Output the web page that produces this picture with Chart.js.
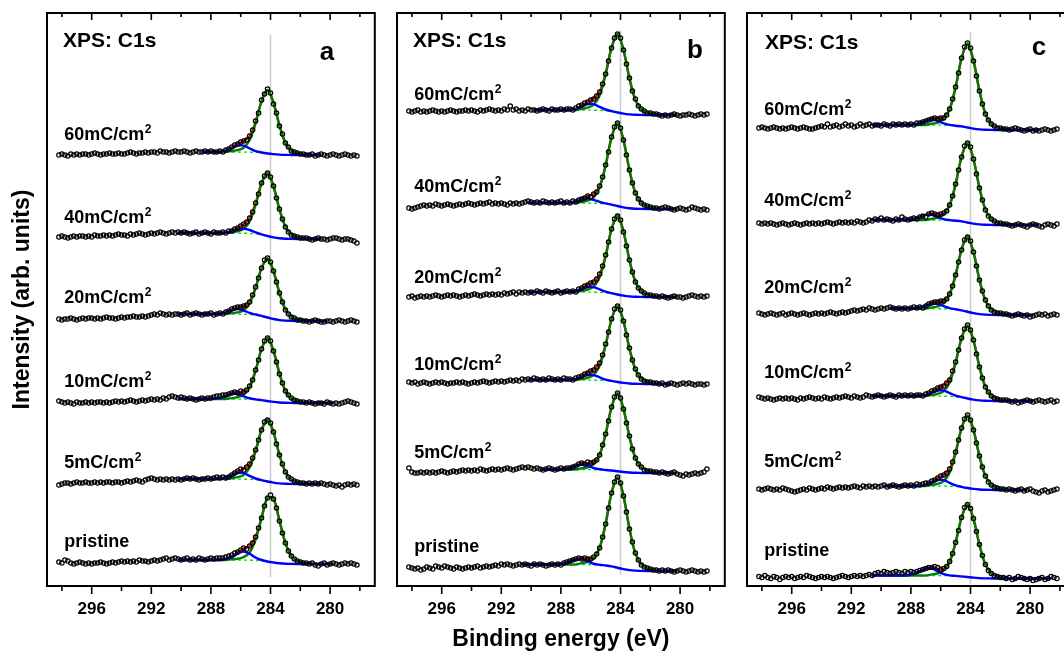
<!DOCTYPE html>
<html>
<head>
<meta charset="utf-8">
<script src="https://cdn.jsdelivr.net/npm/chart.js@4.4.1/dist/chart.umd.min.js"></script>
<style>
  html, body { margin: 0; padding: 0; background: #fff; overflow: hidden; }
  #wrap { position: relative; width: 1064px; height: 653px; overflow: hidden; }
  canvas { position: absolute; top: 0; }
</style>
</head>
<body>
<div id="wrap">
  <canvas id="panelA" width="380" height="653" style="left:0px"></canvas>
  <canvas id="panelB" width="350" height="653" style="left:380px"></canvas>
  <canvas id="panelC" width="350" height="653" style="left:730px"></canvas>
</div>
<script>
// binding energy of every measured point (eV)
const energy = [298.2,298,297.8,297.6,297.4,297.2,297,296.8,296.6,296.4,
  296.2,296,295.8,295.6,295.4,295.2,295,294.8,294.6,294.4,
  294.2,294,293.8,293.6,293.4,293.2,293,292.8,292.6,292.4,
  292.2,292,291.8,291.6,291.4,291.2,291,290.8,290.6,290.4,
  290.2,290,289.8,289.6,289.4,289.2,289,288.8,288.6,288.4,
  288.2,288,287.8,287.6,287.4,287.2,287,286.8,286.6,286.4,
  286.2,286,285.8,285.6,285.4,285.2,285,284.8,284.6,284.4,
  284.2,284,283.8,283.6,283.4,283.2,283,282.8,282.6,282.4,
  282.2,282,281.8,281.6,281.4,281.2,281,280.8,280.6,280.4,
  280.2,280,279.8,279.6,279.4,279.2,279,278.8,278.6,278.4,
  278.2];

// energies of the fitted curves
const fitX = [290.6,290.2,289.8,289.4,289,288.6,288.2,287.8,287.4,287,
  286.6,286.2,285.8,285.4,285,284.6,284.2,283.8,283.4,283,
  282.6,282.2,281.8,281.4,281,280.6,280.2,279.8,279.4,279,278.6];

const sampleNames = ['60mC/cm\u00B2', '40mC/cm\u00B2', '20mC/cm\u00B2', '10mC/cm\u00B2', '5mC/cm\u00B2', 'pristine'];
const majorTicks = [296, 292, 288, 284, 280];
const minorTicks = [298, 294, 290, 286, 282, 278];

// vertical offset of each spectrum in the stack (arb. units)
const offsetsA = [431, 347, 265, 183, 102, 22];
const offsetsB = [471, 377, 289, 202, 113, 15];
const offsetsC = [456, 361, 271, 185, 96, 7.5];

// C=C reference line at 284 eV (bottom, top)
const refA = [9, 551];
const refB = [11, 556];
const refC = [2, 554];

// ---------------- panel a : measured intensities ----------------
const dotsA = [
 [0,1,0,-1,1,0,1,0,1,1, 0,1,2,1,0,1,1,2,1,1, 2,1,1,2,3,2,1,2,2,3, 2,3,3,2,4,3,3,2,3,4, 3,3,4,3,2,3,4,3,3,4,
  3,4,3,3,
  4,3,5,6,8,10,11,13,14,15,19,25,34,42,55,61,66,
  62,51,42,29,21,12,8,4,3,2,1,1,0,
  0,1,-1,0,1,0,-1,0,1,0,-1,0,1,0,-1,0,-1],
 [2,3,2,1,2,3,2,3,3,2, 3,2,4,3,3,4,3,4,3,4, 5,4,4,3,5,4,5,6,5,4, 5,6,5,6,7,6,5,6,7,6, 7,6,7,6,5,6,7,5,6,7,
  6,5,7,6,
  6,7,6,8,8,10,11,13,15,17,21,27,36,45,56,63,66,
  62,53,41,30,20,12,7,4,3,2,1,1,1,
  0,-1,0,1,0,0,-1,0,1,1,0,-1,0,0,-1,-2,-4],
 [2,1,2,2,3,2,1,2,3,2, 3,3,2,3,2,3,4,3,3,2, 3,4,3,4,4,5,4,4,5,4, 5,6,7,6,8,7,6,7,6,7, 7,6,7,8,6,7,8,7,6,7,
  7,8,6,7,
  8,7,9,10,12,13,14,14,15,16,19,26,34,43,53,61,63,
  59,50,39,28,19,11,7,4,3,1,1,0,0,
  -1,0,1,0,-1,-1,0,0,-1,0,1,0,-1,0,1,0,-1],
 [2,1,0,1,0,-1,1,0,0,1, 0,1,0,1,1,0,1,0,1,2, 1,2,1,2,3,2,1,2,3,2, 3,4,3,4,3,5,4,6,7,6, 5,6,5,4,5,4,3,4,5,4,
  5,5,6,7,
  7,8,8,9,10,11,10,12,11,13,17,23,33,43,54,62,65,
  62,52,41,29,20,12,8,5,3,2,1,1,0,
  1,0,-1,0,0,-1,1,0,-1,0,-1,0,1,2,1,0,-1],
 [-1,0,1,1,0,1,2,1,1,2, 1,1,2,1,2,1,2,2,1,2, 2,1,2,3,2,3,4,3,2,4, 5,6,5,4,5,4,5,4,5,4, 5,4,5,6,5,6,5,4,5,5,
  6,5,6,7,
  6,7,6,7,9,11,13,15,14,17,20,26,34,44,54,62,64,
  61,52,40,29,20,12,7,5,3,2,1,1,0,
  1,0,1,0,1,0,-1,0,-1,-2,-1,-3,-1,0,-1,0,-1],
 [2,1,4,3,1,0,1,2,1,0, 1,0,1,1,2,1,0,1,2,1, 2,3,2,3,2,3,2,4,3,3, 2,3,4,3,4,5,6,4,5,6, 5,4,5,6,4,5,4,6,5,4,
  5,6,5,6,
  6,6,7,8,9,11,12,14,16,15,18,21,27,36,46,58,66,
  69,65,56,43,31,21,13,8,5,3,2,1,1,
  0,1,-1,-2,0,1,-1,0,1,0,-1,0,1,0,1,0,-1]
];

// fit components on fitX: background, C-C peak, C-O peak
const bgA = [
 [null,null,null,null,null,3,3,3,3,3,3,2.94,2.88,2.8,2.6,2.2,1.5,.84,.39,.15,.06,0,0,0,0,0,null,null,null,null,null],
 [null,6,6,6,6,6,6,6,6,6,6,5.88,5.76,5.58,5.16,4.32,3,1.68,.78,.3,.12,0,0,0,0,0,null,null,null,null,null],
 [null,7,7,7,7,7,7,7,7,7,7,6.86,6.72,6.51,6.02,5.04,3.5,1.96,.91,.35,.14,0,0,0,0,0,0,null,null,null,null],
 [null,4,4,4,4,4,4,4,4,4,4,3.92,3.84,3.72,3.44,2.88,2,1.12,.52,.2,.08,0,0,0,0,0,0,0,null,null,null],
 [null,5,5,5,5,5,5,5,5,5,5,4.9,4.8,4.65,4.3,3.6,2.5,1.4,.65,.25,.1,0,0,0,0,0,null,null,null,null,null],
 [null,4,4,4,4,4,4,4,4,4,4,3.96,3.88,3.8,3.6,3.2,2.48,1.52,.8,.32,.12,.04,0,0,0,0,0,0,null,null,null]
];
const mainA = [
 [0,0,0,0,0,0,0,0,0,0,1,1.9,4.4,12.1,29.2,51.4,63.5,51.4,29.2,12.1,4.4,1.9,1,0,0,0,0,0,0,0,0],
 [0,0,0,0,0,0,0,0,0,0,.9,1.9,4.4,12,29,51,63,51,29,12,4.4,1.9,.9,0,0,0,0,0,0,0,0],
 [0,0,0,0,0,0,0,0,0,0,.9,1.8,4.1,11.2,27.1,47.8,59,47.8,27.1,11.2,4.1,1.8,.9,0,0,0,0,0,0,0,0],
 [0,0,0,0,0,0,0,0,0,0,.9,1.9,4.4,12,29,51,63,51,29,12,4.4,1.9,.9,0,0,0,0,0,0,0,0],
 [0,0,0,0,0,0,0,0,0,0,.9,1.9,4.3,11.8,28.5,50.2,62,50.2,28.5,11.8,4.3,1.9,.9,0,0,0,0,0,0,0,0],
 [0,0,0,0,0,0,0,0,0,0,.7,1.3,3,7.7,20.8,42.5,63.7,63.7,42.5,20.8,7.7,3,1.3,.7,0,0,0,0,0,0,0]
];
const bumpA = [
 [0,0,0,0,0,0,0,0,.3,1.3,3.7,6.5,6.5,3.7,1.3,.3,0,0,0,0,0,0,0,0,0,0,0,0,0,0,0],
 [0,0,0,0,0,0,0,0,0,.4,1.5,3.4,4.5,3.4,1.5,.4,0,0,0,0,0,0,0,0,0,0,0,0,0,0,0],
 [0,0,0,0,0,0,0,0,.45,1.65,3.75,5,3.75,1.65,.45,0,0,0,0,0,0,0,0,0,0,0,0,0,0,0,0],
 [0,0,0,0,0,0,0,.2,1,2.9,5.1,5.1,2.9,1,.2,0,0,0,0,0,0,0,0,0,0,0,0,0,0,0,0],
 [0,0,0,0,0,0,0,0,.3,1.2,3.4,6,6,3.4,1.2,.3,0,0,0,0,0,0,0,0,0,0,0,0,0,0,0],
 [0,0,0,0,0,0,0,0,0,.8,2.8,6.4,8.5,6.4,2.8,.8,0,0,0,0,0,0,0,0,0,0,0,0,0,0,0]
];

// ---------------- panel b ----------------
const dotsB = [
 [4,3,4,5,3,4,3,4,5,4, 3,4,3,4,5,4,3,4,4,5, 4,5,4,3,5,4,5,6,5,4, 5,4,6,5,9,5,6,4,5,4, 6,5,5,4,5,6,5,4,6,5,
  5,6,5,6,
  6,5,7,9,10,12,13,15,16,19,23,31,41,54,67,77,81,
  77,65,51,37,24,16,9,6,4,2,2,1,1,
  0,-1,0,-1,0,1,0,-1,0,0,1,0,-1,0,1,0,1],
 [1,0,1,2,3,4,3,4,3,5, 4,3,4,5,4,3,4,5,4,5, 6,5,4,5,6,5,6,7,5,6, 5,6,5,4,6,5,6,5,6,7, 8,7,6,7,6,8,7,6,7,6,
  7,8,6,7,
  6,8,7,9,10,11,13,12,15,17,23,32,44,57,72,82,86,
  81,69,54,39,26,16,10,6,4,3,2,1,1,
  0,1,2,1,0,-1,0,1,0,-1,0,2,1,0,-1,0,-1],
 [0,1,-1,0,1,0,1,0,1,2, 1,0,1,2,1,2,1,0,1,2, 1,2,3,2,1,2,3,2,3,2, 3,2,4,3,4,5,3,5,4,5, 4,5,4,6,5,4,6,5,4,5,
  6,4,5,6,
  5,6,5,8,9,11,12,14,15,18,23,31,42,55,68,78,81,
  77,65,51,37,25,15,9,6,4,2,2,1,1,
  0,1,0,-1,0,1,0,0,-1,0,1,2,1,0,1,0,1],
 [2,1,2,0,1,2,1,0,1,2, 1,2,1,0,1,1,2,1,2,1, 0,1,2,1,2,3,2,1,2,3, 2,3,2,3,4,3,4,3,5,4, 5,4,6,5,4,5,4,6,5,4,
  5,4,6,5,
  5,4,6,7,8,10,11,13,14,17,21,29,40,52,65,75,78,
  74,63,49,36,24,15,9,5,3,2,2,1,1,
  0,1,-1,0,1,0,-1,0,1,0,1,0,-1,0,0,-1,0],
 [5,1,0,0,1,0,1,0,1,0, 1,2,1,0,1,2,1,2,3,2, 3,2,3,2,4,3,2,3,4,3, 4,3,4,5,4,3,4,5,6,5, 6,5,4,5,4,3,4,5,4,3,
  4,5,4,5,
  5,6,7,9,10,9,11,10,11,13,18,28,39,52,66,76,80,
  75,64,50,37,24,15,9,6,3,2,2,1,1,
  0,1,0,-1,0,1,-1,-2,-3,-1,-2,-1,0,-1,0,1,4],
 [4,3,2,3,1,2,4,3,2,5, 4,3,5,4,3,2,4,3,2,3, 4,3,4,5,3,4,5,4,5,6, 5,7,6,7,6,5,6,7,6,7, 6,5,7,6,7,6,5,6,7,6,
  7,6,8,9,
  10,11,12,13,12,13,12,12,14,17,23,34,47,63,78,89,94,
  88,75,59,42,29,18,11,6,4,3,2,1,1,
  0,1,0,1,0,-1,0,1,0,-1,0,1,0,-1,0,-1,0]
];
const bgB = [
 [null,null,5,5,5,5,5,5,5,5,5,4.9,4.8,4.65,4.3,3.6,2.5,1.4,.65,.25,.1,0,0,0,0,0,0,null,null,null,null],
 [null,6,6,6,6,6,6,6,6,6,6,5.88,5.76,5.58,5.16,4.32,3,1.68,.78,.3,.12,0,0,0,0,0,0,null,null,null,null],
 [null,5,5,5,5,5,5,5,5,5,5,4.9,4.8,4.65,4.3,3.6,2.5,1.4,.65,.25,.1,0,0,0,0,0,0,null,null,null,null],
 [null,4,4,4,4,4,4,4,4,4,4,3.92,3.84,3.72,3.44,2.88,2,1.12,.52,.2,.08,0,0,0,0,0,null,null,null,null,null],
 [null,null,null,3.5,3.5,3.5,3.5,3.5,3.5,3.5,3.5,3.43,3.36,3.26,3,2.5,1.75,.98,.46,.18,.07,0,0,0,0,0,0,null,null,null,null],
 [6.5,6.5,6.5,6.5,6.5,6.5,6.5,6.5,6.5,6.5,6.5,6.37,6.24,6.05,5.59,4.68,3.25,1.82,.85,.33,.13,0,0,0,0,0,0,null,null,null,null]
];
const mainB = [
 [0,0,0,0,0,0,0,0,0,0,1.2,2.4,5.5,14.9,36.1,63.6,78.5,63.6,36.1,14.9,5.5,2.4,1.2,0,0,0,0,0,0,0,0],
 [0,0,0,0,0,0,0,0,0,0,1.2,2.5,5.8,15.8,38.2,67.2,83,67.2,38.2,15.8,5.8,2.5,1.2,0,0,0,0,0,0,0,0],
 [0,0,0,0,0,0,0,0,0,0,1.2,2.4,5.5,15,36.3,64,79,64,36.3,15,5.5,2.4,1.2,0,0,0,0,0,0,0,0],
 [0,0,0,0,0,0,0,0,0,0,1.1,2.3,5.3,14.4,35,61.6,76,61.6,35,14.4,5.3,2.3,1.1,0,0,0,0,0,0,0,0],
 [0,0,0,0,0,0,0,0,0,0,1.2,2.3,5.5,14.8,35.9,63.2,78,63.2,35.9,14.8,5.5,2.3,1.2,0,0,0,0,0,0,0,0],
 [0,0,0,0,0,0,0,0,0,0,1.4,2.7,6.3,17.2,41.6,73.3,90.5,73.3,41.6,17.2,6.3,2.7,1.4,0,0,0,0,0,0,0,0]
];
const bumpB = [
 [0,0,0,0,0,0,0,0,.3,1.2,3.4,6,6,3.4,1.2,.3,0,0,0,0,0,0,0,0,0,0,0,0,0,0,0],
 [0,0,0,0,0,0,0,0,.4,1.5,3.4,4.5,3.4,1.5,.4,0,0,0,0,0,0,0,0,0,0,0,0,0,0,0,0],
 [0,0,0,0,0,0,0,0,.2,1,2.9,5.1,5.1,2.9,1,.2,0,0,0,0,0,0,0,0,0,0,0,0,0,0,0],
 [0,0,0,0,0,0,0,0,.2,1,2.9,5.1,5.1,2.9,1,.2,0,0,0,0,0,0,0,0,0,0,0,0,0,0,0],
 [0,0,0,0,0,0,0,.45,1.65,3.75,5,3.75,1.65,.45,0,0,0,0,0,0,0,0,0,0,0,0,0,0,0,0,0],
 [0,0,0,0,0,0,.2,1,2.9,5.1,5.1,2.9,1,.2,0,0,0,0,0,0,0,0,0,0,0,0,0,0,0,0,0]
];

// ---------------- panel c ----------------
const dotsC = [
 [2,3,2,1,2,3,2,1,2,1, 2,3,2,1,2,3,2,1,1,2, 3,4,3,6,3,4,5,3,4,6, 4,5,3,4,6,4,5,6,4,5, 5,4,6,5,4,6,5,6,5,6,
  5,6,5,7,
  7,8,9,10,11,12,11,12,12,15,21,31,43,57,72,83,87,
  82,69,54,39,26,16,10,6,4,2,2,1,1,
  0,1,2,1,0,-1,0,1,-1,0,-1,0,1,0,-1,0,1],
 [2,1,2,1,2,1,0,1,2,1, 0,1,2,1,0,1,2,1,2,1, 2,1,2,3,2,1,2,3,2,3, 2,3,2,4,3,2,3,5,4,6, 5,7,5,6,5,4,6,5,8,6,
  5,6,7,6,
  8,9,8,11,12,11,10,11,12,14,20,29,41,55,68,79,82,
  78,66,51,37,25,15,9,6,4,2,2,1,1,
  0,-1,0,1,0,-1,-2,0,1,0,-1,-2,0,1,0,-1,1],
 [2,1,0,1,2,1,0,1,2,0, 1,2,1,0,1,2,1,0,1,2, 1,2,1,2,3,2,1,2,3,2, 3,4,5,4,5,6,5,7,6,5, 6,7,6,7,8,7,6,7,6,7,
  6,7,8,7,
  8,7,9,11,12,13,13,14,14,16,21,29,40,53,65,75,78,
  74,63,49,35,24,15,9,5,3,2,2,1,1,
  0,-1,0,1,0,-1,0,-2,-1,0,1,0,1,-1,0,1,0],
 [4,3,2,3,2,1,2,3,2,3, 2,3,2,1,3,2,3,4,3,2, 3,2,4,3,2,3,4,3,4,5, 4,3,5,4,3,4,6,5,4,5, 6,5,4,5,6,5,4,6,5,6,
  5,6,5,6,
  6,5,7,8,10,11,13,14,15,18,21,30,39,51,63,72,76,
  71,61,47,34,23,14,9,5,3,2,1,1,1,
  0,-1,0,-2,-1,0,1,0,-1,0,1,0,-1,0,1,-1,0],
 [1,0,1,2,1,0,1,0,2,1, 0,-1,-2,-1,0,1,0,2,1,0, 1,2,1,3,2,1,2,3,2,3, 2,3,4,3,2,4,3,4,3,4, 3,4,5,3,4,5,4,3,4,5,
  4,5,4,6,
  5,6,7,7,9,10,12,14,15,17,21,28,38,50,62,71,75,
  70,60,47,34,23,14,8,5,3,2,1,1,0,
  1,0,-1,0,1,-1,0,1,-1,-2,-3,-1,0,-2,-1,0,1],
 [2,1,3,1,0,2,1,-1,1,2, 1,2,0,1,2,1,3,2,1,0, 1,2,1,2,1,0,1,2,3,2, 1,2,3,2,3,2,3,4,3,5, 6,5,7,6,5,6,7,6,5,7,
  6,7,6,7,
  8,9,10,11,11,12,11,9,10,12,17,25,36,48,61,71,74,
  70,60,47,34,23,14,8,5,3,2,1,1,0,
  1,-1,0,2,1,0,-1,0,-2,-1,0,1,-1,0,2,1,0]
];
const bgC = [
 [5,5,5,5,5,5,5,5,5,5,5,4.9,4.8,4.65,4.3,3.6,2.5,1.4,.65,.25,.1,0,0,0,0,0,0,0,0,null,null],
 [5,5,5,5,5,5,5,5,5,5,5,4.9,4.8,4.65,4.3,3.6,2.5,1.4,.65,.25,.1,0,0,0,0,0,0,0,0,null,null],
 [null,null,null,6.5,6.5,6.5,6.5,6.5,6.5,6.5,6.5,6.37,6.24,6.05,5.59,4.68,3.25,1.82,.85,.33,.13,0,0,0,0,0,0,0,null,null,null],
 [5,5,5,5,5,5,5,5,5,5,5,4.9,4.8,4.65,4.3,3.6,2.5,1.4,.65,.25,.1,0,0,0,0,0,0,0,null,null,null],
 [null,null,4,4,4,4,4,4,4,4,4,3.92,3.84,3.72,3.44,2.88,2,1.12,.52,.2,.08,0,0,0,0,0,0,null,null,null,null],
 [3,3,3,3,3,3,3,3,3,3,3,2.94,2.88,2.79,2.58,2.16,1.5,.84,.39,.15,.06,0,0,0,0,0,0,0,0,0,0]
];
const mainC = [
 [0,0,0,0,0,0,0,0,0,0,1.3,2.5,5.9,16,38.6,68,84,68,38.6,16,5.9,2.5,1.3,0,0,0,0,0,0,0,0],
 [0,0,0,0,0,0,0,0,0,0,1.2,2.4,5.6,15.1,36.6,64.4,79.5,64.4,36.6,15.1,5.6,2.4,1.2,0,0,0,0,0,0,0,0],
 [0,0,0,0,0,0,0,0,0,0,1.1,2.3,5.3,14.3,34.5,60.8,75,60.8,34.5,14.3,5.3,2.3,1.1,0,0,0,0,0,0,0,0],
 [0,0,0,0,0,0,0,0,0,0,1.1,2.2,5.1,13.9,33.6,59.1,73,59.1,33.6,13.9,5.1,2.2,1.1,0,0,0,0,0,0,0,0],
 [0,0,0,0,0,0,0,0,0,0,1.1,2.2,5.1,13.8,33.4,58.7,72.5,58.7,33.4,13.8,5.1,2.2,1.1,0,0,0,0,0,0,0,0],
 [0,0,0,0,0,0,0,0,0,0,1.1,2.2,5.1,13.8,33.4,58.7,72.5,58.7,33.4,13.8,5.1,2.2,1.1,0,0,0,0,0,0,0,0]
];
const bumpC = [
 [0,0,0,0,0,0,0,.5,1.8,4.1,5.5,4.1,1.8,.5,0,0,0,0,0,0,0,0,0,0,0,0,0,0,0,0,0],
 [0,0,0,0,0,0,.2,1,2.9,5.1,5.1,2.9,1,.2,0,0,0,0,0,0,0,0,0,0,0,0,0,0,0,0,0],
 [0,0,0,0,0,0,0,.2,.9,2.65,4.65,4.65,2.65,.9,.2,0,0,0,0,0,0,0,0,0,0,0,0,0,0,0,0],
 [0,0,0,0,0,0,0,0,.2,1.1,3.2,5.6,5.6,3.2,1.1,.2,0,0,0,0,0,0,0,0,0,0,0,0,0,0,0],
 [0,0,0,0,0,0,0,0,.3,1.2,3.4,6,6,3.4,1.2,.3,0,0,0,0,0,0,0,0,0,0,0,0,0,0,0],
 [0,0,0,0,0,0,.3,1.4,4.1,7.2,7.2,4.1,1.4,.3,0,0,0,0,0,0,0,0,0,0,0,0,0,0,0,0,0]
];

const fontFam = 'Arial, "Liberation Sans", Helvetica, sans-serif';
Chart.defaults.font.family = fontFam;
Chart.defaults.color = '#000';

// layout of each panel (pixels)
const panels = [
  { id: 'panelA', tag: 'a', dots: dotsA, bg: bgA, main: mainA, bump: bumpA, offsets: offsetsA, ref: refA,
    padding: { top: 13, left: 0, right: 5, bottom: 0 }, yTitle: true, xTitle: false,
    xpsDx: 16, xpsY: 47, tagDx: 280, tagY: 60, labelY: [140, 223, 303, 387, 468, 547] },
  { id: 'panelB', tag: 'b', dots: dotsB, bg: bgB, main: mainB, bump: bumpB, offsets: offsetsB, ref: refB,
    padding: { top: 13, left: 17, right: 5, bottom: 0 }, yTitle: false, xTitle: true,
    xpsDx: 16, xpsY: 47, tagDx: 298, tagY: 58, labelY: [100, 192, 283, 370, 458, 552] },
  { id: 'panelC', tag: 'c', dots: dotsC, bg: bgC, main: mainC, bump: bumpC, offsets: offsetsC, ref: refC,
    padding: { top: 13, left: 17, right: 5, bottom: 0 }, yTitle: false, xTitle: false,
    xpsDx: 18, xpsY: 49, tagDx: 292, tagY: 55, labelY: [115, 206, 293, 378, 467, 556] }
];

function fitLine(p, s, parts, color, width, order) {
  const off = p.offsets[s];
  const data = fitX.map((x, j) => {
    const b = p.bg[s][j];
    if (b === null) return { x: x, y: null };
    let y = b + off;
    parts.forEach(arr => { y += arr[s][j]; });
    return { x: x, y: y };
  });
  return { data: data, borderColor: color, borderWidth: width, pointRadius: 0,
           tension: 0.35, spanGaps: false, borderJoinStyle: 'round', order: order };
}

// label with a raised "2" for cm^2
function drawSampleLabel(ctx, text, x, y) {
  const sup = text.indexOf('\u00B2');
  ctx.font = 'bold 18px ' + fontFam;
  if (sup < 0) { ctx.fillText(text, x, y); return; }
  const base = text.slice(0, sup);
  ctx.fillText(base, x, y);
  const w = ctx.measureText(base).width;
  ctx.font = 'bold 12px ' + fontFam;
  ctx.fillText('2', x + w + 0.5, y - 7);
}

const panelDecor = {
  id: 'panelDecor',
  afterDatasetsDraw(chart, args, o) {
    const { ctx, chartArea: a } = chart;
    const x = chart.scales.x;
    ctx.save();
    ctx.strokeStyle = '#000';
    ctx.lineWidth = 2;
    ctx.strokeRect(a.left, a.top, a.right - a.left, a.bottom - a.top);
    ctx.lineWidth = 1.6;
    ctx.beginPath();
    majorTicks.forEach(v => {
      const px = x.getPixelForValue(v);
      ctx.moveTo(px, a.bottom); ctx.lineTo(px, a.bottom + 8);
      ctx.moveTo(px, a.top); ctx.lineTo(px, a.top + 7);
    });
    minorTicks.forEach(v => {
      const px = x.getPixelForValue(v);
      ctx.moveTo(px, a.bottom); ctx.lineTo(px, a.bottom + 5);
      ctx.moveTo(px, a.top); ctx.lineTo(px, a.top + 4);
    });
    ctx.stroke();

    ctx.fillStyle = '#000';
    ctx.textBaseline = 'alphabetic';
    ctx.textAlign = 'left';
    ctx.font = 'bold 21px ' + fontFam;
    ctx.fillText('XPS: C1s', a.left + o.xpsDx, o.xpsY);
    ctx.textAlign = 'center';
    ctx.font = 'bold 26px ' + fontFam;
    ctx.fillText(o.tag, a.left + o.tagDx, o.tagY);
    ctx.textAlign = 'left';
    const lx = x.getPixelForValue(297.85);
    sampleNames.forEach((t, s) => drawSampleLabel(ctx, t, lx, o.labelY[s]));
    ctx.restore();
  }
};

panels.forEach(p => {
  const datasets = [];
  p.dots.forEach((row, s) => {
    const off = p.offsets[s];
    datasets.push({
      data: energy.map((x, i) => ({ x: x, y: row[i] + off })),
      showLine: false, pointRadius: 2.2, pointBorderWidth: 1.2,
      pointBorderColor: '#000', pointBackgroundColor: 'rgba(255,255,255,0)', order: 0
    });
    datasets.push(fitLine(p, s, [p.bump], '#0000ff', 2.4, 1));
    datasets.push(fitLine(p, s, [p.main], '#008000', 2.4, 2));
    datasets.push(fitLine(p, s, [p.main, p.bump], '#ff0000', 2.4, 3));
    const bgLine = fitLine(p, s, [], '#00dd00', 1.4, 4);
    bgLine.borderDash = [3, 3];
    datasets.push(bgLine);
  });
  datasets.push({
    data: [{ x: 284, y: p.ref[0] }, { x: 284, y: p.ref[1] }],
    borderColor: '#cccccc', borderWidth: 1.5, pointRadius: 0, order: 5
  });

  new Chart(document.getElementById(p.id), {
    type: 'line',
    data: { datasets: datasets },
    options: {
      responsive: false,
      animation: false,
      devicePixelRatio: 1,
      events: [],
      layout: { padding: p.padding },
      plugins: {
        legend: { display: false },
        tooltip: { enabled: false },
        panelDecor: { tag: p.tag, xpsDx: p.xpsDx, xpsY: p.xpsY, tagDx: p.tagDx, tagY: p.tagY, labelY: p.labelY }
      },
      scales: {
        x: {
          type: 'linear', reverse: true, min: 277, max: 299, position: 'bottom',
          afterBuildTicks: s => { s.ticks = majorTicks.map(v => ({ value: v })); },
          afterFit: s => { s.height = 67; },
          grid: { drawOnChartArea: false, color: 'rgba(0,0,0,0)', tickLength: 8 },
          border: { display: false },
          ticks: { color: '#000', font: { size: 17, weight: 'bold' }, padding: 5, maxRotation: 0, autoSkip: false },
          title: { display: p.xTitle, text: 'Binding energy (eV)', color: '#000',
                   font: { size: 23, weight: 'bold' }, padding: { top: 0, bottom: 0 } }
        },
        y: {
          type: 'linear', min: 0, max: 573, display: p.yTitle,
          afterFit: s => { s.width = p.yTitle ? 47 : 0; },
          ticks: { display: false },
          grid: { display: false },
          border: { display: false },
          title: { display: true, text: 'Intensity (arb. units)', color: '#000',
                   font: { size: 23, weight: 'bold' }, padding: { top: 9, bottom: 0 } }
        }
      }
    },
    plugins: [panelDecor]
  });
});
</script>
</body>
</html>
